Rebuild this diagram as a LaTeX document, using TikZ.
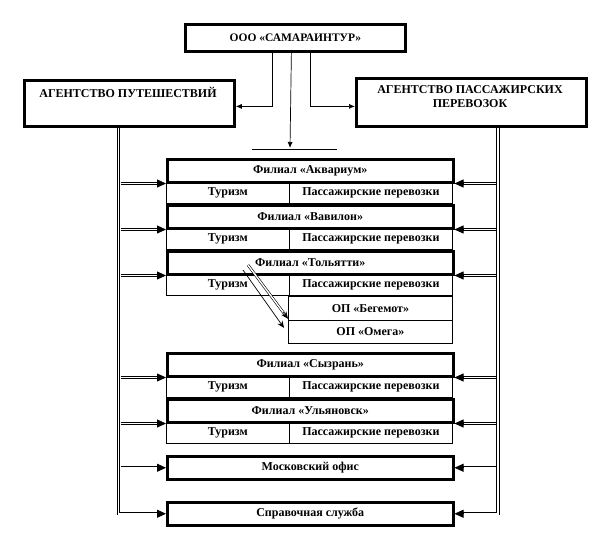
\documentclass[tikz,border=0pt]{standalone}
\usepackage{fontspec}
\setmainfont{Liberation Serif}
\usetikzlibrary{arrows.meta,calc}
\begin{document}
\begin{tikzpicture}[x=1pt,y=-1pt,
  font=\bfseries\fontsize{12}{14}\selectfont,
  thickbox/.style={draw, line width=2.8pt, inner sep=0pt, anchor=north west},
  headbox/.style={draw, line width=2.5pt, inner sep=0pt, anchor=north west, minimum width=286pt, minimum height=23pt},
  cellbox/.style={draw, line width=0.8pt, inner sep=0pt, anchor=north west, minimum height=22pt},
  thinline/.style={line width=0.7pt},
  dbl/.style={double, double distance=1.8pt, line width=0.8pt},
  tip/.style={line width=0.8pt, -{Triangle[length=9pt,width=8pt]}},
]
\useasboundingbox (0,0) rectangle (597,538);

% top level
\node[thickbox, minimum width=220pt, minimum height=27pt, font=\bfseries\fontsize{11.5}{14}\selectfont] (top) at (184,23) {ООО «САМАРАИНТУР»};
\node[thickbox, minimum width=210pt, minimum height=46pt] (agl) at (23,79) {};
\node (aglt) at (128,92) {АГЕНТСТВО ПУТЕШЕСТВИЙ};
\node[thickbox, minimum width=230pt, minimum height=48pt] (agr) at (355,77) {};
\node[align=center] (agrt) at (470,97) {АГЕНТСТВО ПАССАЖИРСКИХ\\ПЕРЕВОЗОК};

% connectors from top
\draw[thinline, -{Latex[length=6pt,width=5pt]}] ($(top.south)+(-23,0)$) |- ($(agl.east)+(0,3)$);
\draw[thinline, -{Latex[length=6pt,width=5pt]}] ($(top.south)+(15,0)$) |- ($(agr.west)+(0,4)$);
\coordinate (bar) at (290,149);
\draw[thinline, -{Latex[length=6pt,width=5pt]}] ($(top.south)+(-4,0)$) -- ($(bar)+(0,-1)$);
\draw[thinline] ($(bar)+(-38,0)$) -- ($(bar)+(47,0)$);

% cells
\foreach \n/\y in {1/181,2/227,3/273,4/375,5/421}{
  \node[cellbox, minimum width=123pt] (t\n) at (166,\y) {Туризм};
  \node[cellbox, minimum width=163pt] (p\n) at (289,\y) {Пассажирские перевозки};
}
\node[cellbox, minimum width=164pt, minimum height=24pt] (beg) at (288,296) {ОП «Бегемот»};
\node[cellbox, minimum width=164pt, minimum height=23pt] (ome) at (288,320) {ОП «Омега»};

% headers
\node[headbox] (h1) at (166,158) {Филиал «Аквариум»};
\node[headbox] (h2) at (166,204) {Филиал «Вавилон»};
\node[headbox] (h3) at (166,250) {Филиал «Тольятти»};
\node[headbox] (h4) at (166,352) {Филиал «Сызрань»};
\node[headbox] (h5) at (166,398) {Филиал «Ульяновск»};
\node[headbox] (mos) at (166,455) {Московский офис};
\node[headbox] (spr) at (166,501) {Справочная служба};

% vertical double lines
\coordinate (xl) at (118.5,0);
\coordinate (xr) at (498,0);
\draw[dbl, shorten >=7pt] (agl.south -| xl) |- (spr.west);
\draw[tip] ($(spr.west)+(-9,0)$) -- (spr.west);
\draw[dbl, shorten >=7pt] (agr.south -| xr) |- (spr.east);
\draw[tip] ($(spr.east)+(9,0)$) -- (spr.east);

\foreach \b/\a in {h1/south,h2/south,h3/south,h4/south,h5/south,mos/}{
  \ifx\a\empty
    \draw[dbl, shorten >=7pt] ($(xl |- \b.west)+(2,0)$) -- (\b.west);
    \draw[tip] ($(\b.west)+(-9,0)$) -- (\b.west);
    \draw[dbl, shorten >=7pt] ($(xr |- \b.east)+(-2,0)$) -- (\b.east);
    \draw[tip] ($(\b.east)+(9,0)$) -- (\b.east);
  \else
    \draw[dbl, shorten >=7pt] ($(xl |- \b.south west)+(2,0)$) -- (\b.south west);
    \draw[tip] ($(\b.south west)+(-9,0)$) -- (\b.south west);
    \draw[dbl, shorten >=7pt] ($(xr |- \b.south east)+(-2,0)$) -- (\b.south east);
    \draw[tip] ($(\b.south east)+(9,0)$) -- (\b.south east);
  \fi
}

% Tolyatti to OP arrows
\coordinate (ta) at (248,265);
\coordinate (tb) at (243,270);
\draw[dbl, double distance=1.4pt, line width=0.6pt, shorten >=5pt] (ta) -- ($(beg.south west)+(0,-2)$);
\draw[thinline, -{Stealth[length=7pt,width=6pt]}] ($(ta)!0.88!($(beg.south west)+(0,-2)$)$) -- ($(beg.south west)+(0,-2)$);
\draw[thinline, -{Stealth[length=7pt,width=6pt]}] (tb) -- ($(ome.west)+(-4,-4)$);
\end{tikzpicture}
\end{document}
